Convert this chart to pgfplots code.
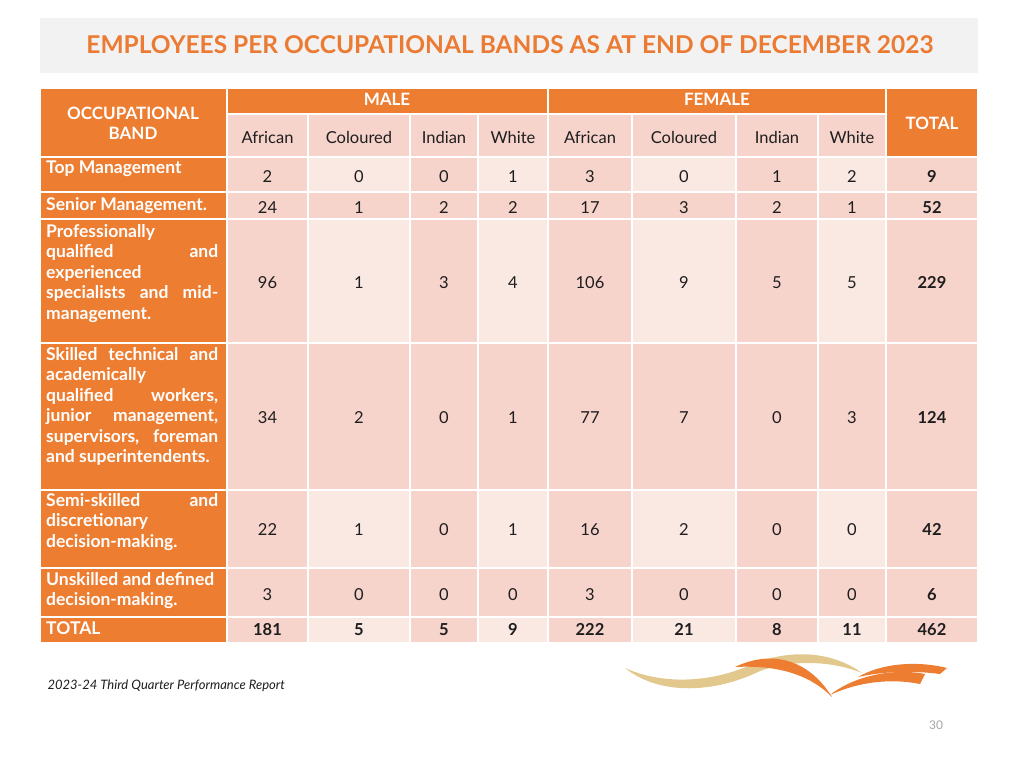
\documentclass[border=0pt]{standalone}
\usepackage{pgfplots}
\pgfplotsset{compat=1.18}
\usepackage{pgfplotstable}
\usepackage{fontspec}
\setmainfont{Lato}
\definecolor{orng}{HTML}{ED7D31}
\definecolor{ttl}{HTML}{EB7A33}
\definecolor{pinkA}{HTML}{F6D3CB}
\definecolor{pinkB}{HTML}{FAE8E3}
\definecolor{titlebg}{HTML}{F2F2F2}
\definecolor{txt}{HTML}{1E1E1E}

% one row per occupational band: y = row centre (px from top)
\pgfplotstableread{
y    MA  MC  MI  MW  FA  FC  FI  FW  T
176  2   0   0   1   3   0   1   2   9
207  24  1   2   2   17  3   2   1   52
282  96  1   3   4   106 9   5   5   229
417  34  2   0   1   77  7   0   3   124
529  22  1   0   1   16  2   0   0   42
594  3   0   0   0   3   0   0   0   6
}\bands
\pgfplotstableread{
y    MA  MC  MI  MW  FA  FC  FI  FW  T
629  181 5   5   9   222 21  8   11  462
}\totals

\pgfplotsset{
  cellnum/.style={only marks, mark=none, nodes near coords, point meta=explicit symbolic,
    every node near coord/.append style={anchor=center, inner sep=0pt, text=txt,
      text height=12pt, text depth=0pt, font=\fontsize{16.5}{16.5}\selectfont}},
  cellbold/.style={cellnum,
    every node near coord/.append style={font=\fontsize{16.5}{16.5}\selectfont\bfseries}},
}
\newcommand\lbl{\fontsize{17.5}{20.5}\selectfont\bfseries\color{white}}
\newcommand\jl[1]{\makebox[172pt][s]{#1}}

\begin{document}
\begin{tikzpicture}
\begin{axis}[
  width=1024pt, height=768pt, scale only axis,
  xmin=0, xmax=1024, ymin=0, ymax=768, y dir=reverse,
  hide axis, clip=false,
]
\fill[white] (axis cs:0,0) rectangle (axis cs:1024,768);
% title bar
\fill[titlebg] (axis cs:40,18) rectangle (axis cs:978,73);
\node[text=ttl, font=\fontsize{24.5}{25}\selectfont\bfseries] at (axis cs:510,45)
  {EMPLOYEES PER OCCUPATIONAL BANDS AS AT END OF DECEMBER 2023};

% header cells
\filldraw[fill=orng, draw=white, line width=2pt] (axis cs:40,88) rectangle (axis cs:227,157);
\filldraw[fill=orng, draw=white, line width=2pt] (axis cs:227,88) rectangle (axis cs:548,114);
\filldraw[fill=orng, draw=white, line width=2pt] (axis cs:548,88) rectangle (axis cs:886,114);
\filldraw[fill=orng, draw=white, line width=2pt] (axis cs:886,88) rectangle (axis cs:978,157);
\foreach \xa/\xb in {227/308,308/410,410/478,478/548,548/632,632/736,736/818,818/886}{
  \edef\tmp{\noexpand\filldraw[fill=pinkA, draw=white, line width=2pt]
    (axis cs:\xa,114) rectangle (axis cs:\xb,157);}
  \tmp
}
% body cells
\foreach \ya/\yb/\band in {157/192/1,192/219/0,219/343/1,343/490/0,490/568/1,568/617/0,617/643/1}{
  \edef\tmp{\noexpand\filldraw[fill=orng, draw=white, line width=2pt]
    (axis cs:40,\ya) rectangle (axis cs:227,\yb);}
  \tmp
  \foreach \xa/\xb/\k in {227/308/0,308/410/1,410/478/0,478/548/1,548/632/0,632/736/1,736/818/0,818/886/1,886/978/0}{
    \pgfmathtruncatemacro\lt{\band*\k}
    \ifnum\lt=1 \def\cc{pinkB}\else\def\cc{pinkA}\fi
    \edef\tmp{\noexpand\filldraw[fill=\cc, draw=white, line width=2pt]
      (axis cs:\xa,\ya) rectangle (axis cs:\xb,\yb);}
    \tmp
  }
}

% header text
\node[align=center, font=\fontsize{17}{20}\selectfont\bfseries, text=white] at (axis cs:133,123)
  {OCCUPATIONAL\\BAND};
\node[font=\fontsize{17}{17}\selectfont\bfseries, text=white] at (axis cs:387,99) {MALE};
\node[font=\fontsize{17}{17}\selectfont\bfseries, text=white] at (axis cs:717,99) {FEMALE};
\node[font=\fontsize{17}{17}\selectfont\bfseries, text=white] at (axis cs:932,123) {TOTAL};
\foreach \x/\t in {267.5/African,359/Coloured,444/Indian,513/White,590/African,684/Coloured,777/Indian,852/White}{
  \edef\tmp{\noexpand\node[font=\noexpand\fontsize{16.5}{16.5}\noexpand\selectfont, text=txt,
    inner sep=0pt, text height=12pt, text depth=0pt]
    at (axis cs:\x,137) {\t};}
  \tmp
}

% row labels
\node[anchor=north west, inner sep=0pt, align=left, font=\lbl] at (axis cs:46,161) {Top Management};
\node[anchor=north west, inner sep=0pt, align=left, font=\lbl] at (axis cs:46,197) {Senior Management.};
\node[anchor=north west, inner sep=0pt, align=left, font=\lbl] at (axis cs:46,224)
  {Professionally\\\jl{qualified and}\\experienced\\\jl{specialists and mid-}\\management.};
\node[anchor=north west, inner sep=0pt, align=left, font=\lbl] at (axis cs:46,347)
  {\jl{Skilled technical and}\\academically\\\jl{qualified workers,}\\\jl{junior management,}\\\jl{supervisors, foreman}\\and superintendents.};
\node[anchor=north west, inner sep=0pt, align=left, font=\lbl] at (axis cs:46,493)
  {\jl{Semi-skilled and}\\discretionary\\decision-making.};
\node[anchor=north west, inner sep=0pt, align=left, font=\lbl] at (axis cs:46,572)
  {Unskilled and defined\\decision-making.};
\node[anchor=north west, inner sep=0pt, align=left, font=\lbl] at (axis cs:46,621) {TOTAL};

% numbers
\addplot[cellnum] table[x expr=267.5, y=y, meta=MA] {\bands};
\addplot[cellnum] table[x expr=359, y=y, meta=MC] {\bands};
\addplot[cellnum] table[x expr=444, y=y, meta=MI] {\bands};
\addplot[cellnum] table[x expr=513, y=y, meta=MW] {\bands};
\addplot[cellnum] table[x expr=590, y=y, meta=FA] {\bands};
\addplot[cellnum] table[x expr=684, y=y, meta=FC] {\bands};
\addplot[cellnum] table[x expr=777, y=y, meta=FI] {\bands};
\addplot[cellnum] table[x expr=852, y=y, meta=FW] {\bands};
\addplot[cellbold] table[x expr=932, y=y, meta=T] {\bands};
\addplot[cellbold] table[x expr=267.5, y=y, meta=MA] {\totals};
\addplot[cellbold] table[x expr=359, y=y, meta=MC] {\totals};
\addplot[cellbold] table[x expr=444, y=y, meta=MI] {\totals};
\addplot[cellbold] table[x expr=513, y=y, meta=MW] {\totals};
\addplot[cellbold] table[x expr=590, y=y, meta=FA] {\totals};
\addplot[cellbold] table[x expr=684, y=y, meta=FC] {\totals};
\addplot[cellbold] table[x expr=777, y=y, meta=FI] {\totals};
\addplot[cellbold] table[x expr=852, y=y, meta=FW] {\totals};
\addplot[cellbold] table[x expr=932, y=y, meta=T] {\totals};

% footer
\node[anchor=west, font=\fontsize{13}{13}\selectfont\itshape, text=txt] at (axis cs:44,686)
  {2023-24 Third Quarter Performance Report};
\node[font=\fontsize{12}{12}\selectfont, text=black!35] at (axis cs:936,725) {30};
% logo swooshes
\fill[color={rgb,255:red,226;green,200;blue,140}] (axis cs:625,668)
  .. controls (axis cs:660,696) and (axis cs:715,693) .. (axis cs:760,671)
  .. controls (axis cs:790,660) and (axis cs:830,660) .. (axis cs:862,673)
  .. controls (axis cs:830,650) and (axis cs:790,650) .. (axis cs:755,663)
  .. controls (axis cs:715,682) and (axis cs:665,686) .. (axis cs:625,668) -- cycle;
\fill[orng] (axis cs:735,667)
  .. controls (axis cs:770,650) and (axis cs:808,658) .. (axis cs:832,697)
  .. controls (axis cs:808,673) and (axis cs:775,665) .. (axis cs:735,667) -- cycle;
\fill[orng] (axis cs:830,695)
  .. controls (axis cs:855,675) and (axis cs:895,668) .. (axis cs:925,674)
  -- (axis cs:920,684)
  .. controls (axis cs:890,678) and (axis cs:858,682) .. (axis cs:830,695) -- cycle;
\fill[orng] (axis cs:858,677)
  .. controls (axis cs:880,664) and (axis cs:915,660) .. (axis cs:947,668)
  -- (axis cs:940,674)
  .. controls (axis cs:910,670) and (axis cs:880,672) .. (axis cs:858,677) -- cycle;
\end{axis}
\end{tikzpicture}
\end{document}
